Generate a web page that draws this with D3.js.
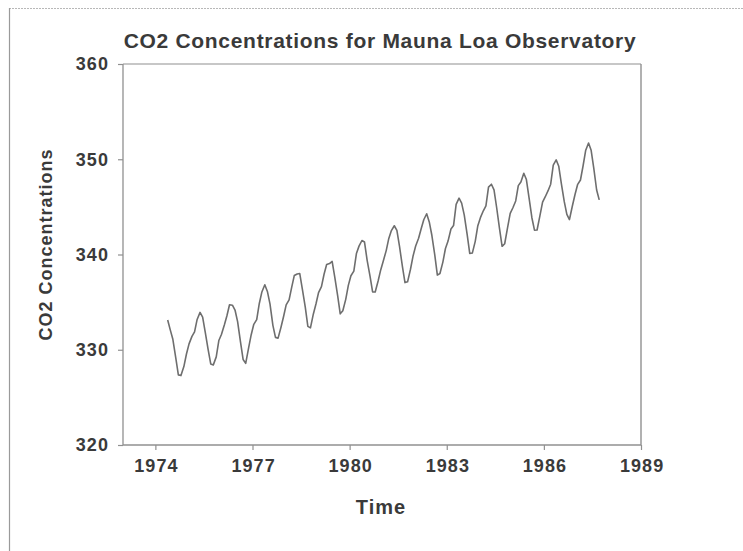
<!DOCTYPE html>
<html>
<head>
<meta charset="utf-8">
<script src="https://cdn.jsdelivr.net/npm/d3@7"></script>
<style>
  html, body { margin: 0; padding: 0; background: #fff; }
  svg { display: block; }
  text { font-family: "Liberation Sans", Arial, sans-serif; font-weight: bold; fill: #3a3a3a; }
</style>
</head>
<body>
<svg id="chart" width="743" height="551"></svg>
<script>
// ---- Data: monthly CO2 at Mauna Loa, May 1974 - Sep 1987 ----
const times = [
  1974.38, 1974.46, 1974.54, 1974.63, 1974.71, 1974.79, 1974.88, 1974.96,
  1975.04, 1975.13, 1975.21, 1975.29, 1975.38, 1975.46, 1975.54, 1975.63, 1975.71, 1975.79, 1975.88, 1975.96,
  1976.04, 1976.13, 1976.21, 1976.29, 1976.38, 1976.46, 1976.54, 1976.63, 1976.71, 1976.79, 1976.88, 1976.96,
  1977.04, 1977.13, 1977.21, 1977.29, 1977.38, 1977.46, 1977.54, 1977.63, 1977.71, 1977.79, 1977.88, 1977.96,
  1978.04, 1978.13, 1978.21, 1978.29, 1978.38, 1978.46, 1978.54, 1978.63, 1978.71, 1978.79, 1978.88, 1978.96,
  1979.04, 1979.13, 1979.21, 1979.29, 1979.38, 1979.46, 1979.54, 1979.63, 1979.71, 1979.79, 1979.88, 1979.96,
  1980.04, 1980.13, 1980.21, 1980.29, 1980.38, 1980.46, 1980.54, 1980.63, 1980.71, 1980.79, 1980.88, 1980.96,
  1981.04, 1981.13, 1981.21, 1981.29, 1981.38, 1981.46, 1981.54, 1981.63, 1981.71, 1981.79, 1981.88, 1981.96,
  1982.04, 1982.13, 1982.21, 1982.29, 1982.38, 1982.46, 1982.54, 1982.63, 1982.71, 1982.79, 1982.88, 1982.96,
  1983.04, 1983.13, 1983.21, 1983.29, 1983.38, 1983.46, 1983.54, 1983.63, 1983.71, 1983.79, 1983.88, 1983.96,
  1984.04, 1984.13, 1984.21, 1984.29, 1984.38, 1984.46, 1984.54, 1984.63, 1984.71, 1984.79, 1984.88, 1984.96,
  1985.04, 1985.13, 1985.21, 1985.29, 1985.38, 1985.46, 1985.54, 1985.63, 1985.71, 1985.79, 1985.88, 1985.96,
  1986.04, 1986.13, 1986.21, 1986.29, 1986.38, 1986.46, 1986.54, 1986.63, 1986.71, 1986.79, 1986.88, 1986.96,
  1987.04, 1987.13, 1987.21, 1987.29, 1987.38, 1987.46, 1987.54, 1987.63, 1987.71
];
const co2 = [
  333.13, 332.09, 331.10, 329.14, 327.36, 327.29, 328.23, 329.55,
  330.62, 331.40, 331.87, 333.18, 333.92, 333.43, 331.85, 330.01, 328.51, 328.41, 329.25, 330.97,
  331.60, 332.60, 333.57, 334.72, 334.68, 334.17, 332.96, 330.80, 328.98, 328.57, 330.20, 331.58,
  332.67, 333.17, 334.86, 336.07, 336.82, 336.12, 334.81, 332.56, 331.30, 331.22, 332.37, 333.49,
  334.71, 335.23, 336.54, 337.79, 337.95, 338.00, 336.37, 334.47, 332.46, 332.29, 333.76, 334.80,
  336.00, 336.63, 337.93, 338.95, 339.05, 339.27, 337.64, 335.68, 333.77, 334.09, 335.29, 336.76,
  337.77, 338.26, 340.10, 340.88, 341.47, 341.31, 339.41, 337.74, 336.07, 336.07, 337.22, 338.38,
  339.32, 340.41, 341.69, 342.51, 343.02, 342.54, 340.88, 338.75, 337.05, 337.13, 338.45, 339.85,
  340.90, 341.70, 342.70, 343.65, 344.28, 343.42, 342.02, 339.97, 337.84, 338.00, 339.20, 340.63,
  341.41, 342.68, 343.04, 345.27, 345.92, 345.40, 344.16, 342.11, 340.11, 340.15, 341.38, 343.02,
  343.87, 344.59, 345.11, 347.07, 347.38, 346.78, 344.96, 342.71, 340.86, 341.13, 342.84, 344.32,
  344.88, 345.62, 347.23, 347.62, 348.53, 347.87, 346.00, 343.86, 342.55, 342.57, 344.11, 345.49,
  346.04, 346.70, 347.38, 349.38, 349.93, 349.26, 347.44, 345.55, 344.21, 343.67, 345.09, 346.27,
  347.33, 347.82, 349.29, 350.91, 351.71, 350.94, 349.10, 346.77, 345.73
];
const xTicks = [1974, 1977, 1980, 1983, 1986, 1989];
const yTicks = [320, 330, 340, 350, 360];
const xDomain = [1973, 1989];
const yDomain = [320, 360];
const titleText = "CO2 Concentrations for Mauna Loa Observatory";
const xLabel = "Time";
const yLabel = "CO2 Concentrations";

// ---- Layout ----
const svg = d3.select("#chart");
const plot = { left: 123, right: 641, top: 64, bottom: 445 };
const axisColor = "#909090";
const FONT = '"Liberation Sans", Arial, sans-serif';

// outer frame (top & left edges)
svg.append("line").attr("x1", 9).attr("x2", 743).attr("y1", 8.5).attr("y2", 8.5)
  .attr("stroke", "#b8b8b8").attr("stroke-width", 1).attr("stroke-dasharray", "2,1");
svg.append("line").attr("x1", 9.5).attr("x2", 9.5).attr("y1", 8).attr("y2", 551)
  .attr("stroke", "#9a9a9a").attr("stroke-width", 1.2);

const x = d3.scaleLinear().domain(xDomain).range([plot.left, plot.right]);
const y = d3.scaleLinear().domain(yDomain).range([plot.bottom, plot.top]);

// plot frame (top and right)
svg.append("line").attr("x1", plot.left).attr("x2", plot.right).attr("y1", plot.top).attr("y2", plot.top)
  .attr("stroke", axisColor).attr("stroke-width", 1.2);
svg.append("line").attr("x1", plot.right).attr("x2", plot.right).attr("y1", plot.top).attr("y2", plot.bottom)
  .attr("stroke", axisColor).attr("stroke-width", 1.4);

// axes
const xAxis = svg.append("g").attr("transform", `translate(0,${plot.bottom})`)
  .call(d3.axisBottom(x).tickValues(xTicks).tickFormat(d3.format("d")).tickSize(5).tickPadding(9));
const yAxis = svg.append("g").attr("transform", `translate(${plot.left},0)`)
  .call(d3.axisLeft(y).tickValues(yTicks).tickFormat(d3.format("d")).tickSize(5).tickPadding(9));
[xAxis, yAxis].forEach(g => {
  g.select(".domain").attr("stroke", axisColor).attr("stroke-width", 1.3);
  g.selectAll(".tick line").attr("stroke", axisColor).attr("stroke-width", 1.2);
  g.selectAll(".tick text").attr("font-family", FONT)
    .attr("font-weight", "bold").attr("font-size", 18).attr("letter-spacing", 1.1).attr("fill", "#555");
});
xAxis.selectAll(".tick text").attr("dx", 0.6);
xAxis.select(".domain").attr("d", `M${plot.left},0H${plot.right}`);
yAxis.select(".domain").attr("d", `M0,${plot.bottom}V${plot.top}`);

// line
const line = d3.line().x((d, i) => x(times[i])).y(d => y(d));
svg.append("path").datum(co2).attr("d", line)
  .attr("fill", "none").attr("stroke", "#6e6e6e").attr("stroke-width", 1.6)
  .attr("stroke-linejoin", "round");

// titles
svg.append("text").attr("x", 380).attr("y", 48).attr("text-anchor", "middle")
  .attr("font-size", 21).attr("letter-spacing", 0.7).attr("fill", "#3a3a3a").text(titleText);
svg.append("text").attr("x", 381).attr("y", 514).attr("text-anchor", "middle")
  .attr("font-size", 20).attr("letter-spacing", 1).attr("fill", "#3a3a3a").text(xLabel);
svg.append("text").attr("transform", `translate(52,${(plot.top + plot.bottom) / 2 - 10}) rotate(-90)`)
  .attr("text-anchor", "middle").attr("font-size", 18).attr("letter-spacing", 1).attr("fill", "#3a3a3a").text(yLabel);
</script>
</body>
</html>
